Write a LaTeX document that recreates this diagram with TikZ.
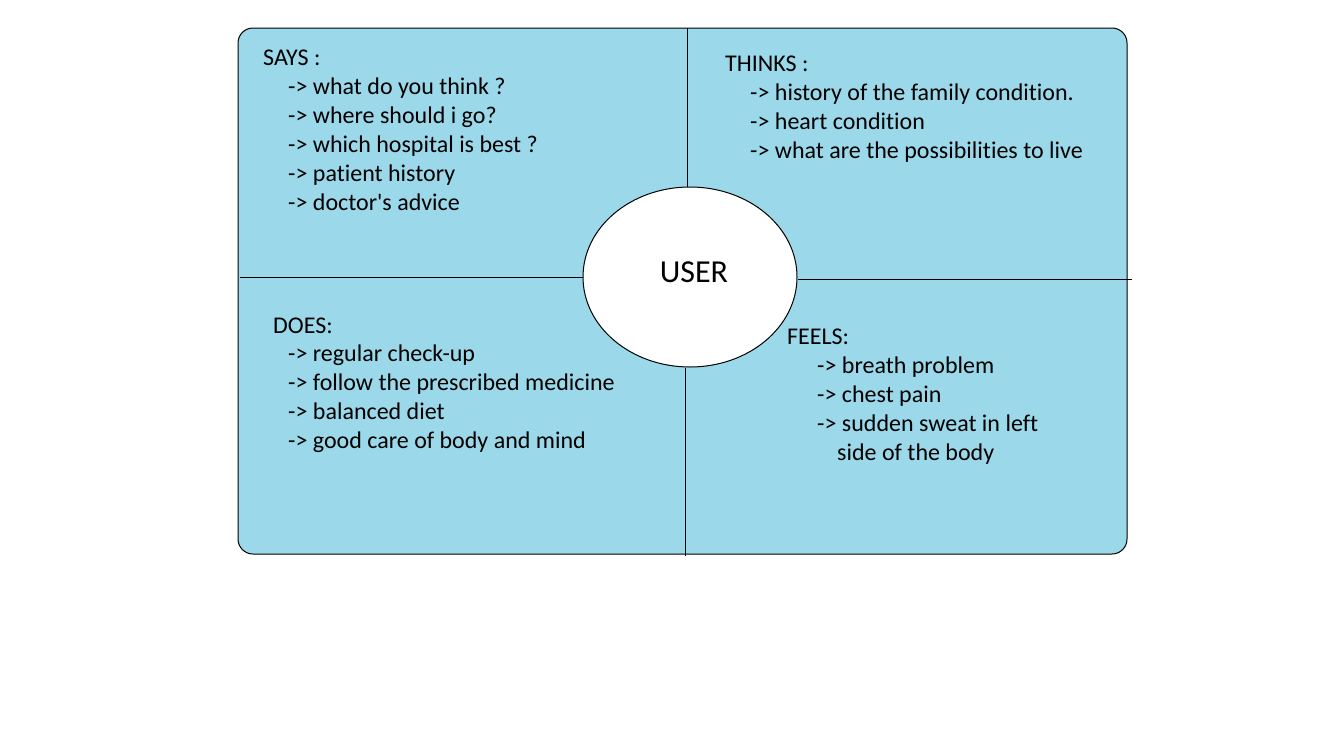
\documentclass[tikz,border=0pt]{standalone}
\usepackage{fontspec}
\setmainfont{Carlito}[Ligatures={NoCommon}]
\usetikzlibrary{shapes.geometric}
\definecolor{mapblue}{RGB}{155,217,234}
\tikzset{
  txt/.style={anchor=base west,inner sep=0pt,font=\fontsize{24}{29}\selectfont},
  frame/.style={draw,line width=1pt}
}
\begin{document}
\begin{tikzpicture}[x=1pt,y=-1pt]
\useasboundingbox (0,0) rectangle (1324,736);
\draw[frame,fill=mapblue,rounded corners=15] (238,28) rectangle (1127,554);
\node[frame,ellipse,fill=white,minimum width=214,minimum height=180,inner sep=0pt] (user) at (690,277) {};
\node[inner sep=0pt,font=\fontsize{32}{38}\selectfont,anchor=base] (usertxt) at (694,282) {USER};
% quadrant lines
\coordinate (topmid) at (687,28);
\coordinate (botmid) at (685,556);
\coordinate (leftmid) at (240,277);
\coordinate (rightmid) at (1132,279);
\draw[frame] (topmid) -- (topmid |- user.north);
\draw[frame] (botmid) -- (botmid |- user.south);
\draw[frame] (leftmid) -- (leftmid -| user.west);
\draw[frame] (rightmid) -- (rightmid -| user.east);
% says
\node[txt] (says) at (263,65) {SAYS :};
\foreach \t [count=\i] in {what do you think ?,where should i go?,which hospital is best ?,patient history,doctor\textquotesingle s advice}
  \node[txt] (says\i) at (288,65+29*\i) {-> \t};
% thinks
\node[txt] (thinks) at (725,71) {THINKS :};
\foreach \t [count=\i] in {history of the family condition.,heart condition,what are the possibilities to live}
  \node[txt] (thinks\i) at (750,71+29*\i) {-> \t};
% does
\node[txt] (does) at (273,333) {DOES:};
\foreach \t [count=\i] in {regular check-up,follow the prescribed medicine,balanced diet,good care of body and mind}
  \node[txt] (does\i) at (288,332+29*\i) {-> \t};
% feels
\node[txt] (feels) at (787,344) {FEELS:};
\foreach \t [count=\i] in {breath problem,chest pain,sudden sweat in left}
  \node[txt] (feels\i) at (817,344+29*\i) {-> \t};
\node[txt] (feels4) at (837,460) {side of the body};
\end{tikzpicture}
\end{document}
